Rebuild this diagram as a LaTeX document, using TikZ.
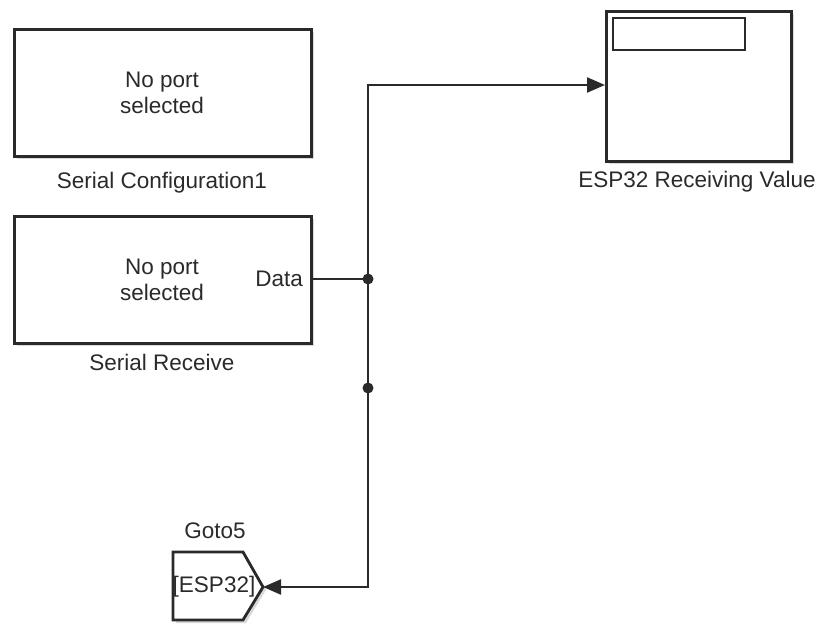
\documentclass[tikz,border=0pt]{standalone}
\usepackage{fontspec}
\setmainfont{Liberation Sans}
\usetikzlibrary{arrows.meta,shadows,calc}
\definecolor{ink}{HTML}{2A2A2A}
\tikzset{
  blockbox/.style={draw=ink, line width=2.8pt, fill=white,
    drop shadow={shadow xshift=3pt, shadow yshift=-3pt, opacity=0.3, fill=gray}},
  sig/.style={draw=ink, line width=2.2pt},
  sigarrow/.style={sig, -{Triangle[length=18pt,width=15pt]}},
  lbl/.style={text=ink, font=\fontsize{22.5}{26}\selectfont, align=center, inner sep=0pt},
  dot/.style={circle, fill=ink, minimum size=11pt, inner sep=0pt}
}
\begin{document}
\begin{tikzpicture}[x=1pt,y=-1pt]
  \useasboundingbox (0,0) rectangle (820,624);

  % Serial Configuration block
  \node[blockbox, minimum width=297pt, minimum height=127pt, anchor=north west] (cfg) at (13,28) {};
  \node[lbl] (cfgtxt) at (162,93) {No port\\selected};
  \node[lbl] (cfglbl) at (162,183) {Serial Configuration1};

  % Serial Receive block
  \node[blockbox, minimum width=297pt, minimum height=127pt, anchor=north west] (rx) at (13,215) {};
  \node[lbl] (rxtxt) at (162,280) {No port\\selected};
  \node[lbl, anchor=east] (data) at (303,279) {Data};
  \node[lbl] (rxlbl) at (162,362) {Serial Receive};

  % Display block
  \node[blockbox, minimum width=185pt, minimum height=150pt, anchor=north west] (scope) at (605,10) {};
  \node[draw=ink, line width=2pt, minimum width=132pt, minimum height=32pt, anchor=north west, inner sep=0pt] (scopewin) at (612,17) {};
  \node[lbl] (scopelbl) at (697,182) {ESP32 Receiving Value};

  % Goto block
  \fill[gray, opacity=0.3] (176,555) -- (246,555) -- (266,590) -- (246,623) -- (176,623) -- cycle;
  \draw[ink, line width=2.8pt, fill=white, line join=miter] (173,552) -- (243,552) -- (263,587) -- (243,620) -- (173,620) -- cycle;
  \coordinate (gotoin) at (263,587);
  \node[lbl] (gototxt) at (214,587) {[ESP32]};
  \node[lbl] (gotolbl) at (215,531) {Goto5};

  % Signal lines
  \coordinate (j1) at (368,279);
  \coordinate (j2) at (368,388);
  \coordinate (top) at (368,85);
  \coordinate (bot) at (368,587);
  \coordinate (scopein) at (605,85);

  \draw[sig] (rx.east |- data) -- (j1);
  \draw[sigarrow] (j1) -- (top) -- (scopein);
  \draw[sigarrow] (j1) -- (bot) -- (gotoin);

  \node[dot] (d1) at (j1) {};
  \node[dot] (d2) at (j2) {};
\end{tikzpicture}
\end{document}
